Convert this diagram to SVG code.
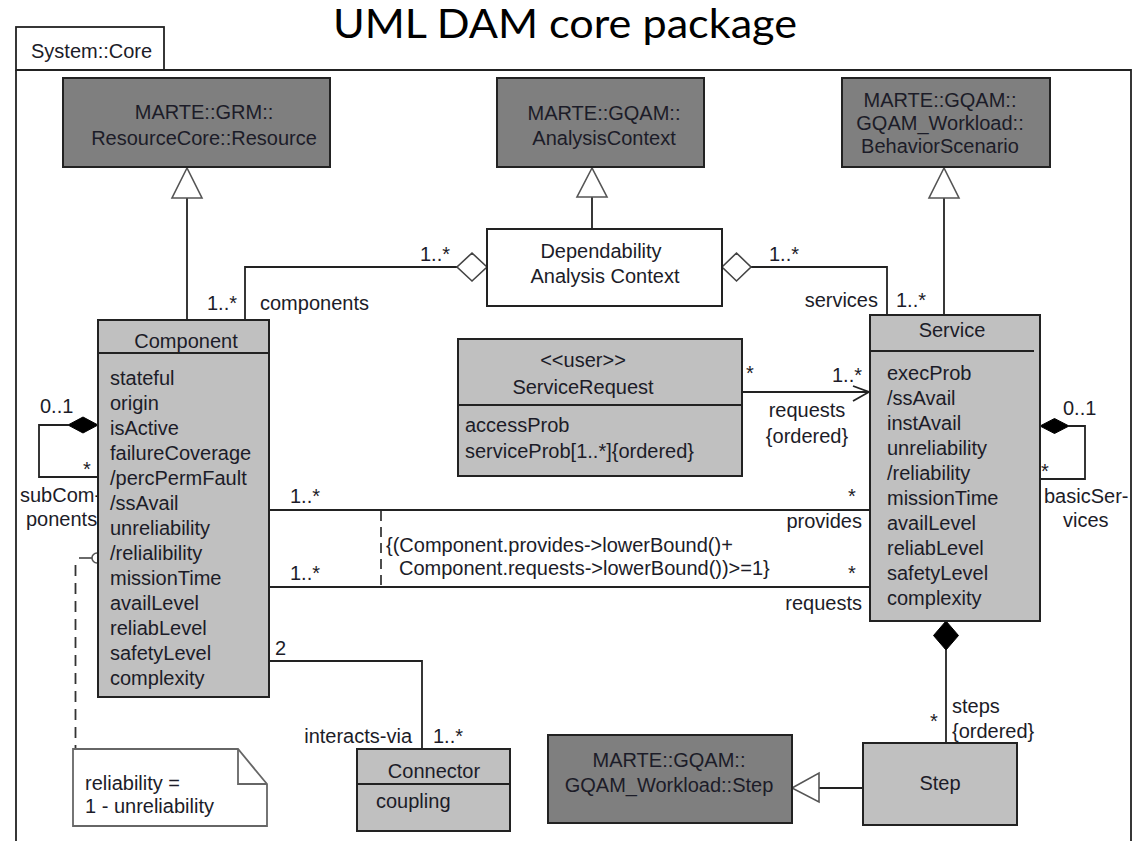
<svg xmlns="http://www.w3.org/2000/svg" width="1135" height="841" viewBox="0 0 1135 841">
  <style>
    .t { font-family: "Liberation Sans", Arial, sans-serif; font-size: 20px; fill: #1c1c28; }
    .m { text-anchor: middle; }
    .e { text-anchor: end; }
    .dark { fill: #7f7f7f; stroke: #222; stroke-width: 2; }
    .light { fill: #c0c0c0; stroke: #222; stroke-width: 2; }
    .plain { fill: #fff; stroke: #222; stroke-width: 2; }
    .ln { fill: none; stroke: #222; stroke-width: 1.8; }
    .dash { fill: none; stroke: #222; stroke-width: 1.6; stroke-dasharray: 10 6; }
    .gen { fill: #fff; stroke: #555; stroke-width: 1.6; }
    .agg { fill: #fff; stroke: #444; stroke-width: 1.6; }
    .comp { fill: #000; stroke: #000; stroke-width: 1; }
  </style>

  <rect width="1135" height="841" fill="#fff"/>

  <!-- heading -->
  <text x="565" y="38" text-anchor="middle" font-family="Lato, 'Open Sans', sans-serif" font-size="40" fill="#000" textLength="464" lengthAdjust="spacingAndGlyphs">UML DAM core package</text>

  <!-- package frame -->
  <g id="package">
    <rect x="16" y="27" width="148" height="43" fill="#fff" stroke="#222" stroke-width="1.8"/>
    <path class="ln" d="M16,70 H1131 V845 M16,70 V845"/>
    <text class="t" x="31" y="58">System::Core</text>
  </g>

  <!-- connectors -->
  <g id="connectors">
    <!-- generalizations -->
    <path class="ln" d="M187,198 V320"/>
    <polygon class="gen" points="187,168 172,198 202,198"/>
    <path class="ln" d="M592,197 V229"/>
    <polygon class="gen" points="592,168 577,197 607,197"/>
    <path class="ln" d="M944,198 V315"/>
    <polygon class="gen" points="944,168 929,198 959,198"/>
    <path class="ln" d="M819,788 H863"/>
    <polygon class="gen" points="792,788 819,773 819,802"/>

    <!-- aggregations from the analysis context -->
    <path class="ln" d="M457,267 H245 V320"/>
    <polygon class="agg" points="487,267 472,253 457,267 472,281"/>
    <path class="ln" d="M751,267 H887 V315"/>
    <polygon class="agg" points="722,267 736.5,253 751,267 736.5,281"/>

    <!-- service request navigation -->
    <path class="ln" d="M742,392 H869"/>
    <path class="ln" d="M853,386 L869,392 L853,401"/>

    <!-- provides / requests -->
    <path class="ln" d="M269,510 H870"/>
    <path class="ln" d="M269,587 H870"/>
    <path class="dash" d="M381,511 V587"/>

    <!-- subComponents -->
    <path class="ln" d="M68,425 H39 V477 H98"/>
    <polygon class="comp" points="98,425 83,417 68,425 83,433"/>

    <!-- basicServices -->
    <path class="ln" d="M1069,426 H1085 V479 H1040"/>
    <polygon class="comp" points="1040,426 1054.5,418.5 1069,426 1054.5,433.5"/>

    <!-- steps -->
    <path class="ln" d="M946,650 V743"/>
    <polygon class="comp" points="946,621 958.5,635.5 946,650 933.5,635.5"/>

    <!-- interacts-via -->
    <path class="ln" d="M269,661 H422 V749"/>

    <!-- note anchor -->
    <path d="M79,558 H92" fill="none" stroke="#444" stroke-width="1.6"/>
    <circle cx="97" cy="558" r="5" fill="#fff" stroke="#555" stroke-width="1.6"/>
    <path d="M75.5,565 V749" fill="none" stroke="#333" stroke-width="1.8" stroke-dasharray="11 7"/>

    <!-- role names and multiplicities -->
    <text class="t" x="420" y="261">1..*</text>
    <text class="t" x="769" y="261">1..*</text>
    <text class="t" x="207" y="310">1..*</text>
    <text class="t" x="260" y="310">components</text>
    <text class="t e" x="878" y="307">services</text>
    <text class="t" x="896" y="307">1..*</text>

    <text class="t" x="746" y="380">*</text>
    <text class="t e" x="862" y="382">1..*</text>
    <text class="t m" x="807" y="417">requests</text>
    <text class="t m" x="807" y="443">{ordered}</text>

    <text class="t" x="290" y="503">1..*</text>
    <text class="t" x="848" y="503">*</text>
    <text class="t e" x="862" y="528">provides</text>
    <text class="t" x="290" y="580">1..*</text>
    <text class="t" x="848" y="580">*</text>
    <text class="t e" x="862" y="610">requests</text>
    <text class="t" x="386" y="552">{(Component.provides-&gt;lowerBound()+</text>
    <text class="t" x="399" y="575">Component.requests-&gt;lowerBound())&gt;=1}</text>

    <text class="t" x="40" y="413">0..1</text>
    <text class="t" x="83" y="476">*</text>
    <text class="t" x="20" y="502">subCom-</text>
    <text class="t" x="26" y="526">ponents</text>

    <text class="t" x="1063" y="415">0..1</text>
    <text class="t" x="1041" y="478">*</text>
    <text class="t" x="1044" y="503">basicSer-</text>
    <text class="t" x="1063" y="527">vices</text>

    <text class="t" x="930" y="728">*</text>
    <text class="t" x="952" y="713">steps</text>
    <text class="t" x="952" y="738">{ordered}</text>

    <text class="t" x="275" y="655">2</text>
    <text class="t e" x="412" y="743">interacts-via</text>
    <text class="t" x="433" y="743">1..*</text>
  </g>

  <g id="resource">
    <rect class="dark" x="63" y="78" width="267" height="89"/>
    <text class="t m" x="204" y="119">MARTE::GRM::</text>
    <text class="t m" x="204" y="145">ResourceCore::Resource</text>
  </g>

  <g id="analysis-context">
    <rect class="dark" x="497" y="78" width="207" height="89"/>
    <text class="t m" x="604" y="120">MARTE::GQAM::</text>
    <text class="t m" x="604" y="145">AnalysisContext</text>
  </g>

  <g id="behavior-scenario">
    <rect class="dark" x="842" y="78" width="208" height="89"/>
    <text class="t m" x="940" y="107">MARTE::GQAM::</text>
    <text class="t m" x="940" y="130">GQAM_Workload::</text>
    <text class="t m" x="940" y="153">BehaviorScenario</text>
  </g>

  <g id="dependability-analysis-context">
    <rect class="plain" x="487" y="229" width="235" height="77"/>
    <text class="t m" x="601" y="258">Dependability</text>
    <text class="t m" x="605" y="283">Analysis Context</text>
  </g>

  <g id="component">
    <rect class="light" x="98" y="320" width="171" height="377"/>
    <path class="ln" d="M98,353 H269"/>
    <text class="t m" x="186" y="348">Component</text>
    <text class="t" x="110" y="385">stateful</text>
    <text class="t" x="110" y="410">origin</text>
    <text class="t" x="110" y="435">isActive</text>
    <text class="t" x="110" y="460">failureCoverage</text>
    <text class="t" x="110" y="485">/percPermFault</text>
    <text class="t" x="110" y="510">/ssAvail</text>
    <text class="t" x="110" y="535">unreliability</text>
    <text class="t" x="110" y="560">/relialibility</text>
    <text class="t" x="110" y="585">missionTime</text>
    <text class="t" x="110" y="610">availLevel</text>
    <text class="t" x="110" y="635">reliabLevel</text>
    <text class="t" x="110" y="660">safetyLevel</text>
    <text class="t" x="110" y="685">complexity</text>
  </g>

  <g id="service-request">
    <rect class="light" x="458" y="339" width="284" height="137"/>
    <path class="ln" d="M458,405 H742"/>
    <text class="t m" x="583" y="367">&lt;&lt;user&gt;&gt;</text>
    <text class="t m" x="583" y="394">ServiceRequest</text>
    <text class="t" x="465" y="432">accessProb</text>
    <text class="t" x="465" y="458">serviceProb[1..*]{ordered}</text>
  </g>

  <g id="service">
    <rect class="light" x="870" y="315" width="170" height="306"/>
    <path class="ln" d="M870,351 H1034"/>
    <text class="t m" x="952" y="337">Service</text>
    <text class="t" x="887" y="380">execProb</text>
    <text class="t" x="887" y="405">/ssAvail</text>
    <text class="t" x="887" y="430">instAvail</text>
    <text class="t" x="887" y="455">unreliability</text>
    <text class="t" x="887" y="480">/reliability</text>
    <text class="t" x="887" y="505">missionTime</text>
    <text class="t" x="887" y="530">availLevel</text>
    <text class="t" x="887" y="555">reliabLevel</text>
    <text class="t" x="887" y="580">safetyLevel</text>
    <text class="t" x="887" y="605">complexity</text>
  </g>

  <g id="connector">
    <rect class="light" x="357" y="749" width="153" height="82"/>
    <path class="ln" d="M357,784 H510"/>
    <text class="t m" x="434" y="778">Connector</text>
    <text class="t" x="376" y="808">coupling</text>
  </g>

  <g id="gqam-step">
    <rect class="dark" x="548" y="735" width="244" height="88"/>
    <text class="t m" x="669" y="767">MARTE::GQAM::</text>
    <text class="t m" x="669" y="792">GQAM_Workload::Step</text>
  </g>

  <g id="step">
    <rect class="light" x="863" y="743" width="154" height="82"/>
    <text class="t m" x="940" y="790">Step</text>
  </g>

  <g id="note">
    <path d="M73,749 H238 L267,784 V826 H73 Z" fill="#fff" stroke="#666" stroke-width="1.8"/>
    <path d="M238,749 V784 H267" fill="none" stroke="#666" stroke-width="1.8"/>
    <text class="t" x="85" y="790">reliability =</text>
    <text class="t" x="85" y="813">1 - unreliability</text>
  </g>
</svg>
